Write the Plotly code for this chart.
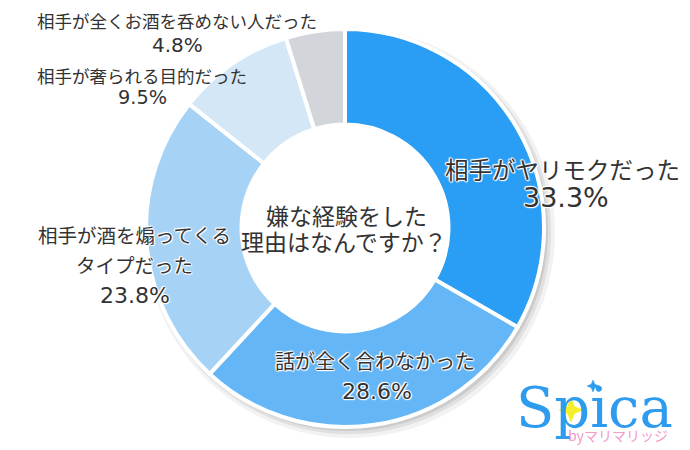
import plotly.graph_objects as go

# ---- data ----
categories = ["相手がヤリモクだった", "話が全く合わなかった", "相手が酒を煽ってくるタイプだった",
              "相手が奢られる目的だった", "相手が全くお酒を呑めない人だった"]
values = [33.3, 28.6, 23.8, 9.5, 4.8]
label_lines = [["相手がヤリモクだった"], ["話が全く合わなかった"], ["相手が酒を煽ってくる", "タイプだった"],
               ["相手が奢られる目的だった"], ["相手が全くお酒を呑めない人だった"]]
center_title = ["嫌な経験をした", "理由はなんですか？"]
colors = ["#2A9DF4", "#64B6F6", "#A6D3F5", "#D3E7F6", "#D2D5D9"]

W, H = 690, 450
CX, CY, R = 345, 228, 199

def px(x):
    return x / W

def py(y):
    return 1 - y / H

def dom(cx, cy, r):
    return dict(x=[px(cx - r), px(cx + r)], y=[py(cy + r), py(cy - r)])

fig = go.Figure()

# soft shadow layers
for off, extra, a in [(5, 6, 0.05), (4, 3, 0.07), (3, 1, 0.09)]:
    fig.add_trace(go.Pie(values=[1], hole=0.6, sort=False, textinfo="none", hoverinfo="skip",
                         marker=dict(colors=[f"rgba(0,0,0,{a})"], line=dict(width=0)),
                         domain=dom(CX + off, CY + off, R + extra), showlegend=False))

fig.add_trace(go.Pie(
    labels=categories, values=values, hole=0.52, sort=False, direction="clockwise", rotation=0,
    textinfo="none", hoverinfo="label+percent",
    marker=dict(colors=colors, line=dict(color="white", width=4)),
    domain=dom(CX, CY, R), showlegend=False))

FONT = "Noto Sans CJK JP, sans-serif"
NUMFONT = "DejaVu Sans, sans-serif"
TC = "#333333"
SH = "white 1px 0px 1px, white -1px 0px 1px, white 0px 1px 1px, white 0px -1px 1px, white 1px 1px 1px, white -1px -1px 1px"

anns = []

def add(text, x, y, size, shadow=True, color=TC, family=FONT):
    f = dict(family=family, size=size, color=color)
    if shadow:
        f["shadow"] = SH
    anns.append(dict(text=text, x=px(x), y=py(y), xref="paper", yref="paper",
                     showarrow=False, xanchor="center", yanchor="middle", font=f))

# label positions: x of lines, y of lines, x/y of percentage, label size, pct size
pos = [
    (562, [169], 566, 198, 23.5, 27),
    (375, [360], 377, 391, 20, 22),
    (134, [234, 264], 135, 295, 19.5, 22),
    (142, [76], 142, 98, 17.5, 19.3),
    (177, [21], 177, 45, 17.5, 20),
]
for i, (x, ys, xp, yp, fs, fp) in enumerate(pos):
    sh = i < 3
    for line, yy in zip(label_lines[i], ys):
        add(line, x, yy, fs, shadow=sh)
    add(f"{values[i]}%", xp, yp, fp, shadow=sh, family=NUMFONT)

add(center_title[0], 346, 215, 23, shadow=False)
add(center_title[1], 344, 241, 23, shadow=False)

# logo
add("Spica", 594, 407, 56, shadow=False, color="#2E9CEE", family="DejaVu Serif")
add("byマリマリッジ", 618, 435, 14, shadow=False, color="#F49ACB")

shapes = []

def star(cx, cy, r, color):
    k = 0.3 * r
    pts = [(cx, cy - r), (cx + k, cy - k), (cx + r, cy), (cx + k, cy + k),
           (cx, cy + r), (cx - k, cy + k), (cx - r, cy), (cx - k, cy - k)]
    path = "M " + " L ".join(f"{px(a)},{py(b)}" for a, b in pts) + " Z"
    shapes.append(dict(type="path", path=path, xref="paper", yref="paper", layer="above",
                       fillcolor=color, line=dict(color=color, width=0.5)))

star(571, 410, 12, "#F5EE2A")
star(593, 386, 6, "#2E9CEE")

fig.update_layout(width=W, height=H, margin=dict(l=0, r=0, t=0, b=0),
                  paper_bgcolor="white", plot_bgcolor="white",
                  annotations=anns, shapes=shapes)
fig.write_html("out.html")
